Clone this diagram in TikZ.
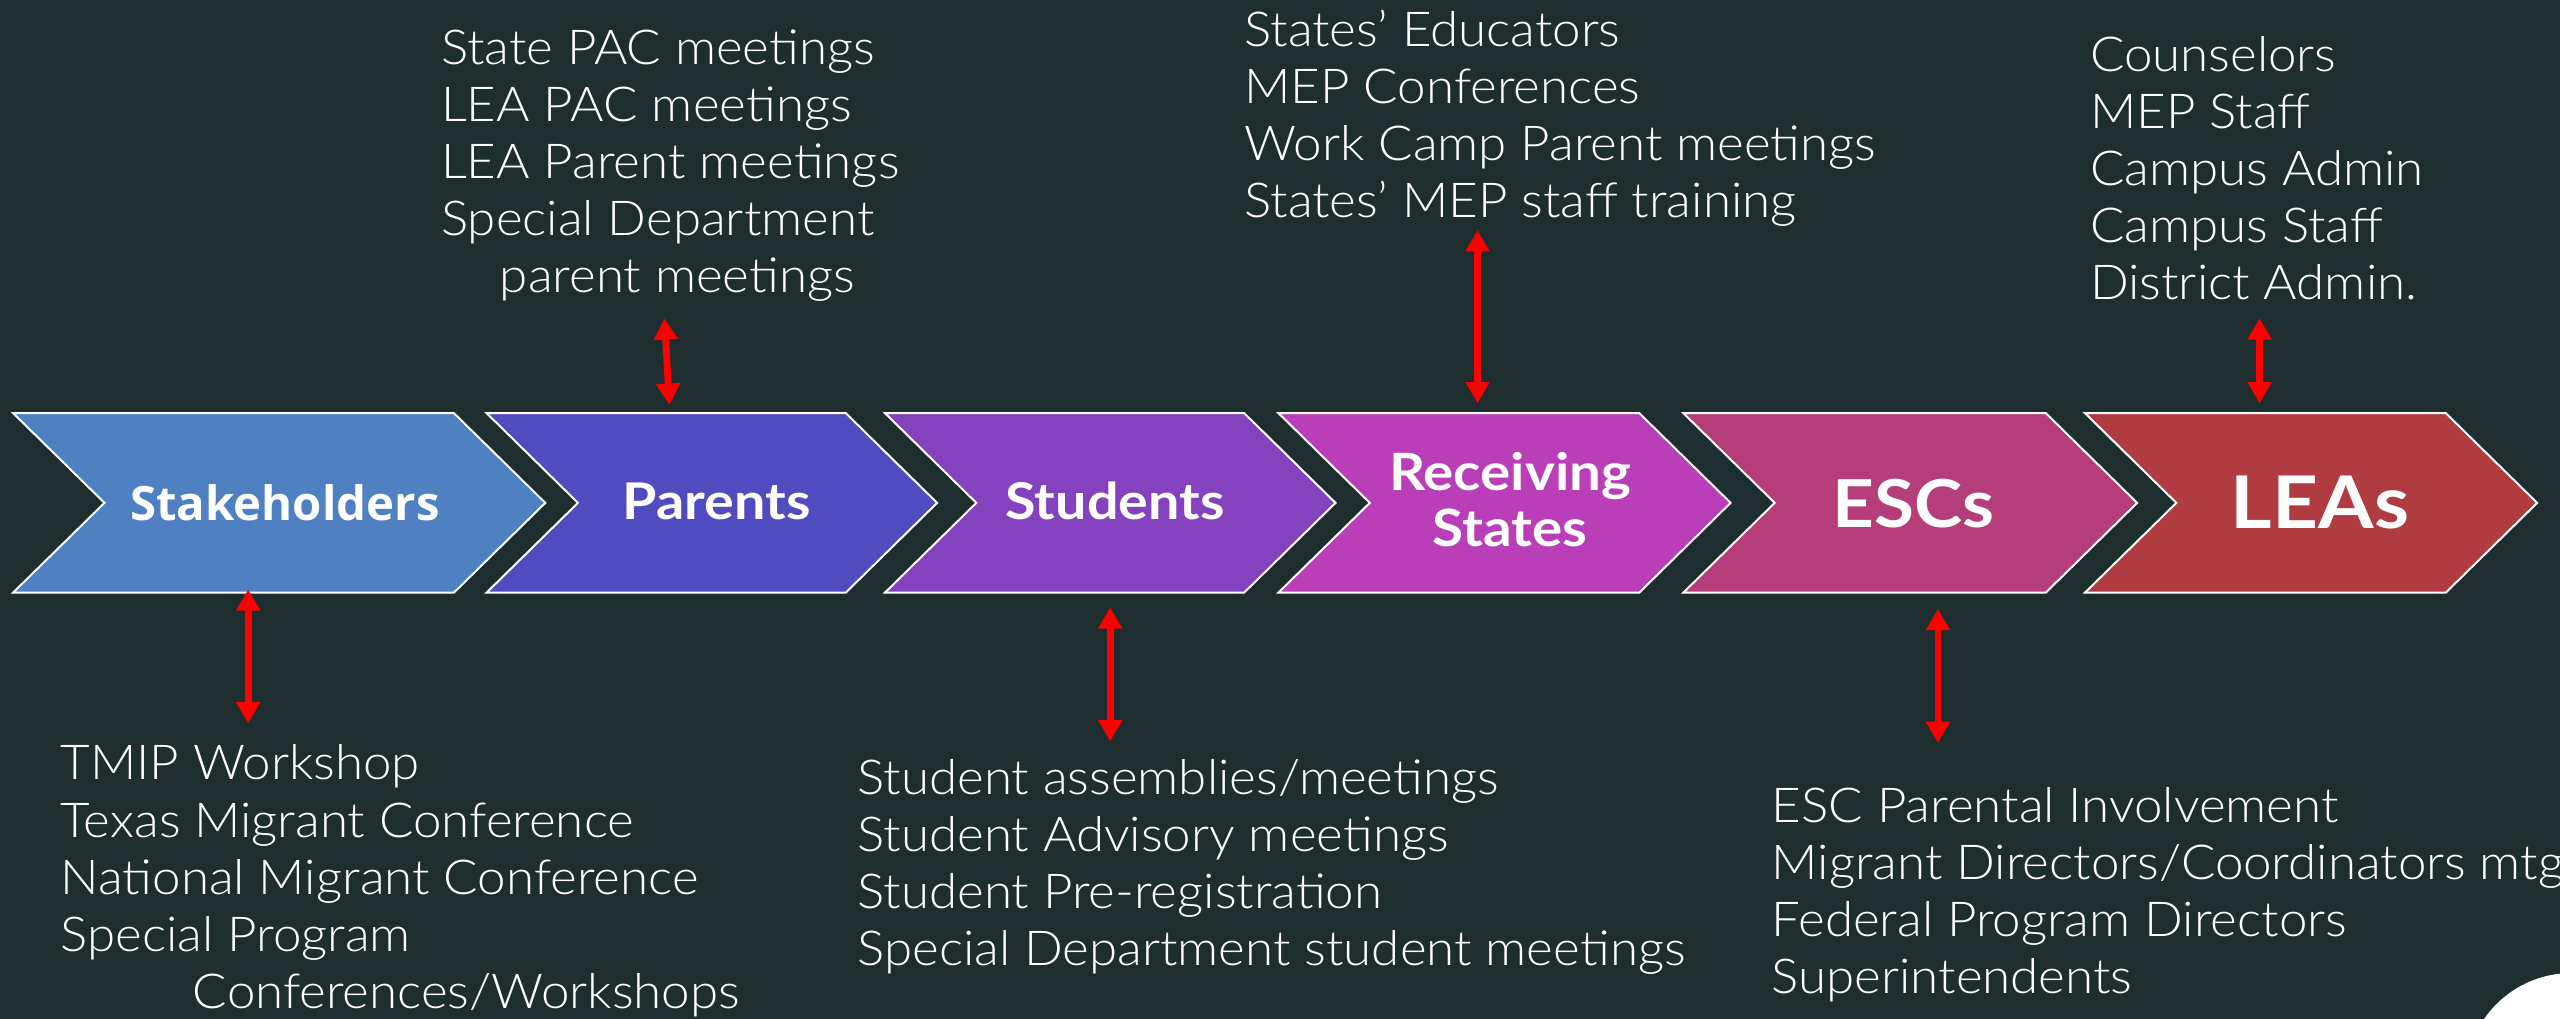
\documentclass[tikz,border=0pt]{standalone}
\usepackage{fontspec}
\setmainfont{Lato Light}[FakeStretch=1.06]
\newfontfamily\openbold{Open Sans}
\newfontfamily\latobold{Lato}[FakeStretch=1.1]
\usetikzlibrary{arrows.meta,positioning}

\definecolor{bgdark}{RGB}{30,46,46}
\definecolor{stakeblue}{RGB}{79,128,193}
\definecolor{parentblue}{RGB}{81,75,192}
\definecolor{studentpurple}{RGB}{133,66,190}
\definecolor{recvmagenta}{RGB}{186,62,184}
\definecolor{escpink}{RGB}{181,62,122}
\definecolor{leared}{RGB}{176,60,66}

% left x, width, fill colour
\newcommand{\chevron}[3]{%
  \filldraw[chev, fill=#3] (#1,253) -- ++(#2-56,0) -- ++(56,55) -- ++(-56,55)
    -- (#1,363) -- ++(56,-55) -- cycle;}

\begin{document}
\begin{tikzpicture}[x=1pt, y=-1pt]
\tikzstyle{chev}=[draw=white, line width=1.2pt, line join=miter]
\tikzstyle{head}=[text=white, anchor=base, inner sep=0pt]
\tikzstyle{list}=[text=white, anchor=north west, inner sep=0pt, align=left, font=\fontsize{29.5}{35}\selectfont]
\tikzstyle{link}=[red, line width=4.2pt, {Triangle[length=13pt,width=14pt]}-{Triangle[length=13pt,width=14pt]}]

\useasboundingbox (0,0) rectangle (1568,624);
\fill[bgdark] (0,0) rectangle (1568,624);
\begin{scope}
\clip (0,0) rectangle (1568,624);
\fill[white] (1575,661) circle (65pt);

\chevron{8}{326}{stakeblue}
\chevron{298}{276}{parentblue}
\chevron{542}{276}{studentpurple}
\chevron{783}{277}{recvmagenta}
\chevron{1031}{278}{escpink}
\chevron{1277}{277}{leared}

\node[head, font=\openbold\bfseries\fontsize{29}{34}\selectfont] (stake) at (174.5,318.5) {Stakeholders};
\node[head, font=\latobold\bfseries\fontsize{31}{34}\selectfont] (parents) at (439,318) {Parents};
\node[head, font=\latobold\bfseries\fontsize{31}{34}\selectfont] (students) at (683,318) {Students};
\node[head, anchor=center, align=center, font=\latobold\bfseries\fontsize{31.5}{34}\selectfont] (recv) at (925,306) {Receiving\\States};
\node[head, font=\latobold\bfseries\fontsize{40.5}{46}\selectfont] (escs) at (1172,323) {ESCs};
\node[head, font=\latobold\bfseries\fontsize{44.5}{50}\selectfont] (leas) at (1421,323.5) {LEAs};

\node[list] (stakelist) at (37,456) {TMIP Workshop\\Texas Migrant Conference\\National Migrant Conference\\Special Program\\\hspace*{81pt}Conferences/Workshops};
\node[list] (parentlist) at (270,18) {State PAC meetings\\LEA PAC meetings\\LEA Parent meetings\\Special Department\\\hspace*{36pt}parent meetings};
\node[list] (studentlist) at (525,465) {Student assemblies/meetings\\Student Advisory meetings\\Student Pre-registration\\Special Department student meetings};
\node[list] (recvlist) at (762,6) {States’ Educators\\MEP Conferences\\Work Camp Parent meetings\\States’ MEP staff training};
\node[list] (esclist) at (1085,482) {ESC Parental Involvement\\Migrant Directors/Coordinators mtgs\\Federal Program Directors\\Superintendents};
\node[list] (lealist) at (1280,22) {Counselors\\MEP Staff\\Campus Admin\\Campus Staff\\District Admin.};

\coordinate (stakeup) at (152,361);
\coordinate (stakedown) at (152,443);
\coordinate (parentup) at (407,195);
\coordinate (parentdown) at (410,248);
\coordinate (studentup) at (680,372);
\coordinate (studentdown) at (680,454);
\coordinate (recvup) at (905,141);
\coordinate (recvdown) at (905,247);
\coordinate (escup) at (1187,373);
\coordinate (escdown) at (1187,455);
\coordinate (leaup) at (1384,195);
\coordinate (leadown) at (1384,247);

\draw[link] (stakeup) -- (stakedown);
\draw[link] (parentup) -- (parentdown);
\draw[link] (studentup) -- (studentdown);
\draw[link] (recvup) -- (recvdown);
\draw[link] (escup) -- (escdown);
\draw[link] (leaup) -- (leadown);
\end{scope}
\end{tikzpicture}
\end{document}
